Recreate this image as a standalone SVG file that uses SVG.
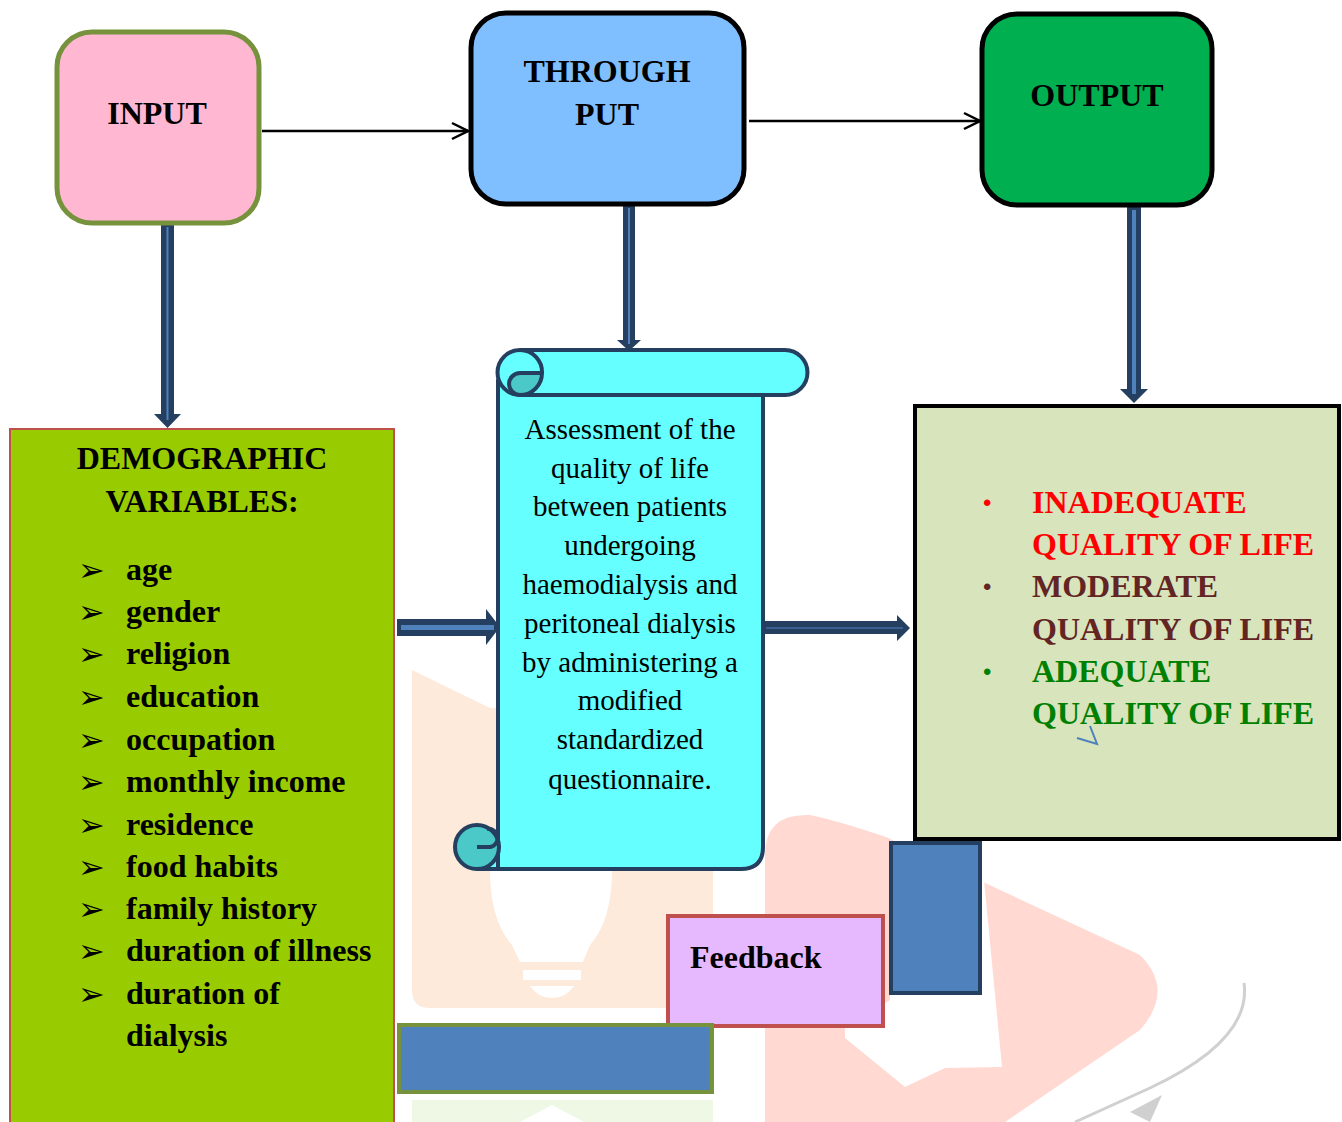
<svg xmlns="http://www.w3.org/2000/svg" width="1342" height="1122" viewBox="0 0 1342 1122">
<defs>
<style>
text{font-family:"Liberation Serif","Times New Roman",serif;}
.b{font-weight:bold;font-size:32px;fill:#000;}
.r{font-size:29px;fill:#000;}
.blk{fill:#243f60;}
.str{stroke:#4f81bd;fill:none;}
.thin{stroke:#000;stroke-width:2.5;fill:none;marker-end:url(#open);}
.bul{font-family:"DejaVu Sans",sans-serif;font-size:32px;fill:#000;}
.dot{font-family:"Liberation Sans",sans-serif;font-size:24px;}
</style>
<marker id="open" markerWidth="20" markerHeight="20" refX="18" refY="10" orient="auto" markerUnits="userSpaceOnUse">
<path d="M2 2 L18 10 L2 18" fill="none" stroke="#000" stroke-width="2.5"/>
</marker>
</defs>
<rect width="1342" height="1122" fill="#fff"/>
<g id="watermark">
<path d="M412 670 L490 708 L713 708 L713 1008 L430 1008 Q412 1008 412 990 Z" fill="#feeadb"/>
<path d="M490 870 L612 870 Q612 920 590 945 L583 962 L520 962 L512 945 Q490 920 490 870 Z" fill="#fff"/>
<rect x="523" y="970" width="58" height="10" fill="#fff"/>
<path d="M530 986 L574 986 Q566 998 552 998 Q538 998 530 986 Z" fill="#fff"/>
<path d="M412 1122 L412 1100 L713 1100 L713 1122 Z" fill="#eef8e4"/>
<path d="M520 1122 L552 1105 L584 1122 Z" fill="#fff"/>
<path d="M765 855 Q765 813 810 815 Q835 820 886 837 L1140 955 Q1175 990 1140 1030 L1005 1122 L765 1122 Z" fill="#ffd9d2"/>
<path d="M890 880 L984 880 L1002 1067 L945 1068 L905 1087 L845 1038 L845 1027 L890 1000 Z" fill="#fff"/>
<path d="M1244 983 Q1252 1040 1150 1088 L1075 1122" fill="none" stroke="#d0d0d0" stroke-width="3"/>
<path d="M1130 1112 L1162 1095 L1150 1122 Z" fill="#d0d0d0"/>
</g>
<g id="connectors">
<line class="thin" x1="262" y1="131" x2="468" y2="131"/>
<line class="thin" x1="749" y1="121" x2="980" y2="121"/>
<polygon class="blk" points="161,222 174,222 174,414 181,414 167.5,428 154,414 161,414"/>
<line class="str" x1="167.5" y1="227" x2="167.5" y2="420" stroke-width="2"/>
<polygon class="blk" points="623,205 635,205 635,340 641,340 629,351 617,340 623,340"/>
<line class="str" x1="629" y1="208" x2="629" y2="344" stroke-width="2"/>
<polygon class="blk" points="1127,206 1141,206 1141,389 1148,389 1134,403 1120,389 1127,389"/>
<line class="str" x1="1134" y1="210" x2="1134" y2="394" stroke-width="4"/>
<polygon class="blk" points="397,619 486,619 486,609 500,627 486,645 486,636 397,636"/>
<line class="str" x1="401" y1="627.5" x2="494" y2="627.5" stroke-width="5"/>
<polygon class="blk" points="763,621 897,621 897,615 910,628 897,641 897,634 763,634"/>
<line class="str" x1="766" y1="628" x2="903" y2="628" stroke-width="1.2"/>
</g>
<g id="input">
<rect x="57" y="32" width="202" height="191" rx="35" fill="#ffb7d2" stroke="#76923c" stroke-width="5"/>
<text class="b" x="157" y="124" text-anchor="middle">INPUT</text>
</g>
<g id="throughput">
<rect x="471" y="13" width="273" height="191" rx="35" fill="#80bfff" stroke="#000" stroke-width="5"/>
<text class="b" x="607" y="82" text-anchor="middle">THROUGH</text>
<text class="b" x="607" y="125" text-anchor="middle">PUT</text>
</g>
<g id="output">
<rect x="982" y="14" width="230" height="191" rx="35" fill="#00b050" stroke="#000" stroke-width="5"/>
<text class="b" x="1097" y="106" text-anchor="middle">OUTPUT</text>
</g>
<g id="demographic">
<rect x="10" y="429" width="384" height="700" fill="#99cc00" stroke="#c0504d" stroke-width="2"/>
<text class="b" x="202" y="469" text-anchor="middle">DEMOGRAPHIC</text>
<text class="b" x="202" y="512" text-anchor="middle">VARIABLES:</text>
<g class="bul">
<text x="78" y="581">➢</text><text x="78" y="623">➢</text><text x="78" y="665">➢</text><text x="78" y="708">➢</text>
<text x="78" y="751">➢</text><text x="78" y="793">➢</text><text x="78" y="836">➢</text><text x="78" y="878">➢</text>
<text x="78" y="920">➢</text><text x="78" y="962">➢</text><text x="78" y="1005">➢</text>
</g>
<text class="b" x="126" y="580">age</text>
<text class="b" x="126" y="622">gender</text>
<text class="b" x="126" y="664">religion</text>
<text class="b" x="126" y="707">education</text>
<text class="b" x="126" y="750">occupation</text>
<text class="b" x="126" y="792">monthly income</text>
<text class="b" x="126" y="835">residence</text>
<text class="b" x="126" y="877">food habits</text>
<text class="b" x="126" y="919">family history</text>
<text class="b" x="126" y="961">duration of illness</text>
<text class="b" x="126" y="1004">duration of</text>
<text class="b" x="126" y="1046">dialysis</text>
</g>
<g id="assessment">
<path d="M498 380 V869 H741 Q763 869 763 847 V390 Z" fill="#66ffff" stroke="#243f60" stroke-width="4" stroke-linejoin="round"/>
<path d="M477 869 H498 V847" fill="#66ffff" stroke="#243f60" stroke-width="4"/>
<circle cx="477" cy="847" r="22" fill="#4bc8c8" stroke="#243f60" stroke-width="4"/>
<path d="M477 847 H490 A9 9 0 0 0 487 829" fill="none" stroke="#243f60" stroke-width="4"/>
<path d="M520 350 H785 A22.5 22.5 0 0 1 785 395 H520 A22.5 22.5 0 0 1 520 350 Z" fill="#66ffff" stroke="#243f60" stroke-width="4"/>
<path d="M520 373 H542 A22 22 0 0 1 520 395 A11 11 0 0 1 520 373 Z" fill="#4bc8c8" stroke="#243f60" stroke-width="4"/>
<path d="M520 350 A22 22 0 0 1 542 373" fill="none" stroke="#243f60" stroke-width="4"/>
<g class="r" text-anchor="middle">
<text x="630" y="439">Assessment of the</text>
<text x="630" y="478">quality of life</text>
<text x="630" y="516">between patients</text>
<text x="630" y="555">undergoing</text>
<text x="630" y="594">haemodialysis and</text>
<text x="630" y="633">peritoneal dialysis</text>
<text x="630" y="672">by administering a</text>
<text x="630" y="710">modified</text>
<text x="630" y="749">standardized</text>
<text x="630" y="789">questionnaire.</text>
</g>
</g>
<g id="results">
<rect x="915" y="406" width="424" height="433" fill="#d7e4bc" stroke="#000" stroke-width="4"/>
<text class="dot" x="983" y="511" fill="#ff0000">•</text>
<text class="dot" x="983" y="595" fill="#632523">•</text>
<text class="dot" x="983" y="680" fill="#008000">•</text>
<text class="b" x="1032" y="513" style="fill:#ff0000">INADEQUATE</text>
<text class="b" x="1032" y="555" style="fill:#ff0000">QUALITY OF LIFE</text>
<text class="b" x="1032" y="597" style="fill:#632523">MODERATE</text>
<text class="b" x="1032" y="640" style="fill:#632523">QUALITY OF LIFE</text>
<text class="b" x="1032" y="682" style="fill:#008000">ADEQUATE</text>
<text class="b" x="1032" y="724" style="fill:#008000">QUALITY OF LIFE</text>
<path d="M1077 738 L1097 744 L1090 726" fill="none" stroke="#4f81bd" stroke-width="2"/>
</g>
<g id="blue-right">
<rect x="891" y="843" width="89" height="150" fill="#4f81bd" stroke="#243f60" stroke-width="4"/>
</g>
<g id="feedback">
<rect x="668" y="916" width="215" height="110" fill="#e6b9ff" stroke="#c0504d" stroke-width="4"/>
<text class="b" x="690" y="968">Feedback</text>
</g>
<g id="blue-bottom">
<rect x="399" y="1025" width="313" height="67" fill="#4f81bd" stroke="#76923c" stroke-width="4"/>
</g>
</svg>
